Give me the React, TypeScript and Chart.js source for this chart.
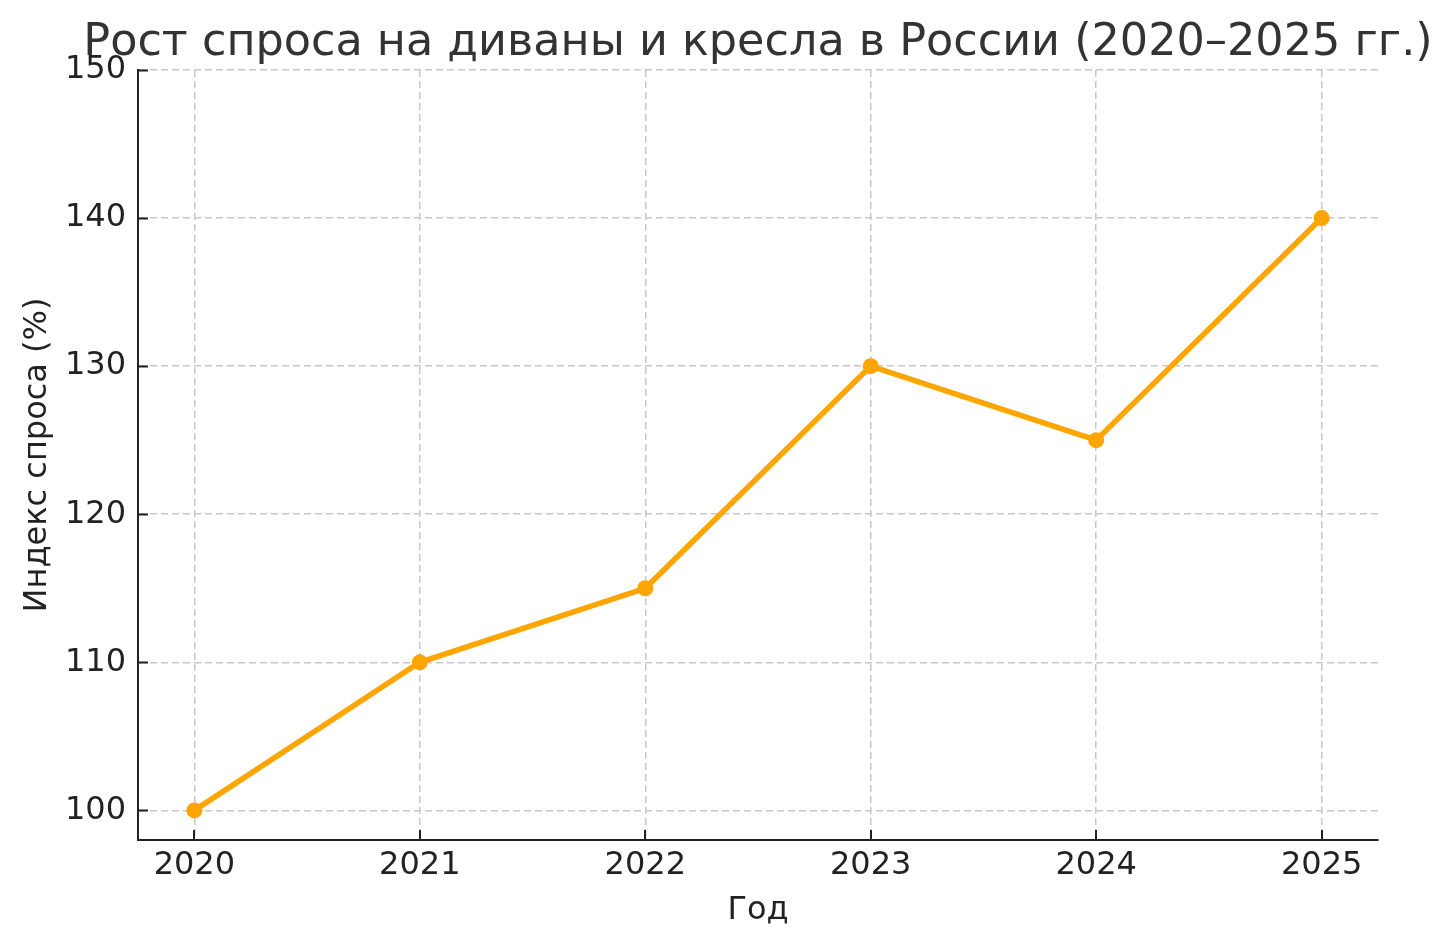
import React, { useEffect, useRef } from 'react';
import { Chart, registerables } from 'chart.js';

Chart.register(...registerables);

const years = [2020, 2021, 2022, 2023, 2024, 2025];
const demandIndex = [100, 110, 115, 130, 125, 140];
const yTicks = [100, 110, 120, 130, 140, 150];
const chartTitle = 'Рост спроса на диваны и кресла в России (2020–2025 гг.)';

const FONT = "'DejaVu Sans', sans-serif";
const INK = '#222222';

// matplotlib-style inward tick marks
const innerTicks = {
  id: 'innerTicks',
  afterDraw(chart: any) {
    const { ctx, chartArea } = chart;
    const x = chart.scales.x;
    const y = chart.scales.y;
    ctx.save();
    ctx.strokeStyle = INK;
    ctx.lineWidth = 2;
    ctx.setLineDash([]);
    ctx.beginPath();
    yTicks.forEach((v) => {
      const py = Math.round(y.getPixelForValue(v)) + 0.5;
      ctx.moveTo(chartArea.left, py);
      ctx.lineTo(chartArea.left + 10, py);
    });
    years.forEach((v) => {
      const px = Math.round(x.getPixelForValue(v));
      ctx.moveTo(px, chartArea.bottom);
      ctx.lineTo(px, chartArea.bottom - 10);
    });
    ctx.stroke();
    ctx.restore();
  },
};

// title centred over the plot, no width squeezing
const plotTitle = {
  id: 'plotTitle',
  afterDraw(chart: any) {
    const { ctx, chartArea } = chart;
    ctx.save();
    ctx.fillStyle = '#333333';
    ctx.font = `44.5px ${FONT}`;
    ctx.textAlign = 'center';
    ctx.textBaseline = 'alphabetic';
    ctx.fillText(chartTitle, (chartArea.left + chartArea.right) / 2, 55);
    ctx.restore();
  },
};

const App: React.FC = () => {
  const canvasRef = useRef<HTMLCanvasElement>(null);

  useEffect(() => {
    document.body.style.margin = '0';
    if (!canvasRef.current) return;
    const chart = new Chart(canvasRef.current, {
      type: 'line',
      data: {
        datasets: [
          {
            data: years.map((yr, i) => ({ x: yr, y: demandIndex[i] })),
            borderColor: '#ffa500',
            backgroundColor: '#ffa500',
            borderWidth: 5.5,
            pointRadius: 8,
            pointHoverRadius: 8,
            pointBorderWidth: 0,
            tension: 0,
          },
        ],
      },
      options: {
        animation: false,
        responsive: true,
        maintainAspectRatio: false,
        layout: { padding: { left: 0, right: 73, top: 70, bottom: 0 } },
        plugins: {
          legend: { display: false },
          tooltip: { enabled: false },
          title: { display: false },
        },
        scales: {
          x: {
            type: 'linear',
            min: 2019.75,
            max: 2025.25,
            afterBuildTicks: (s: any) => {
              s.ticks = years.map((v) => ({ value: v }));
            },
            afterFit: (s: any) => {
              s.height = 107;
            },
            ticks: {
              includeBounds: false,
              autoSkip: false,
              maxRotation: 0,
              padding: 6,
              color: INK,
              font: { family: FONT, size: 32 },
              callback: (v: any) => String(v),
            },
            grid: {
              drawTicks: false,
              color: '#c8c8c8',
              lineWidth: 1.5,
            },
            border: { display: true, color: INK, width: 2, dash: [7, 4] },
            title: {
              display: true,
              text: 'Год',
              color: INK,
              font: { family: FONT, size: 32 },
              padding: { top: 0, bottom: 17 },
            },
          },
          y: {
            min: 98,
            max: 150,
            afterBuildTicks: (s: any) => {
              s.ticks = yTicks.map((v) => ({ value: v }));
            },
            afterFit: (s: any) => {
              s.width = 138;
            },
            ticks: {
              includeBounds: false,
              padding: 12,
              color: INK,
              font: { family: FONT, size: 32 },
              callback: (v: any) => String(v),
            },
            grid: {
              drawTicks: false,
              color: '#c8c8c8',
              lineWidth: 1.5,
            },
            border: { display: true, color: INK, width: 2, dash: [7, 4] },
            title: {
              display: true,
              text: 'Индекс спроса (%)',
              color: INK,
              font: { family: FONT, size: 32 },
              padding: { top: 18, bottom: 0 },
            },
          },
        },
      },
      plugins: [innerTicks, plotTitle],
    });
    return () => chart.destroy();
  }, []);

  return (
    <div style={{ width: 1451, height: 947, position: 'relative' }}>
      <canvas ref={canvasRef}></canvas>
    </div>
  );
};

export default App;
